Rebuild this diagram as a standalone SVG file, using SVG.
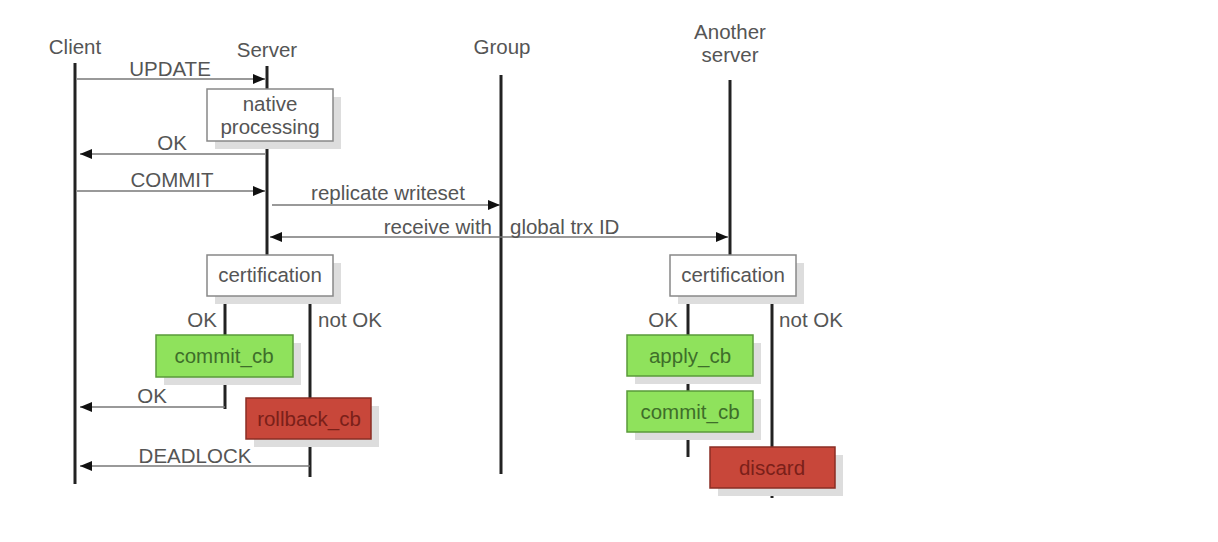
<svg xmlns="http://www.w3.org/2000/svg" width="1218" height="542" viewBox="0 0 1218 542">
<style>
text{font-family:"Liberation Sans",Arial,sans-serif;font-size:20.5px;fill:#555;}
.c{text-anchor:middle}
.life{stroke:#222;stroke-width:3;fill:none}
.br{stroke:#222;stroke-width:3;fill:none}
.msg{stroke:#777;stroke-width:1.5;fill:none}
.sh{fill:#ddd}
.wb{fill:#fff;stroke:#888;stroke-width:1.5}
.gb{fill:#8fe25c;stroke:#5a9a3a;stroke-width:1.5}
.rb{fill:#c8473a;stroke:#8a2e25;stroke-width:1.5}
.gt{fill:#3e6e2a}
.rt{fill:#7a2019}
</style>
<defs>
<marker id="ah" markerWidth="12" markerHeight="10" refX="12" refY="5" orient="auto-start-reverse" markerUnits="userSpaceOnUse">
<path d="M0,0 L12,5 L0,10 Z" fill="#111"/>
</marker>
</defs>
<rect width="1218" height="542" fill="#fff"/>
<g id="lifelines">
<line class="life" x1="75" y1="63" x2="75" y2="484"/>
<line class="life" x1="267" y1="66" x2="267" y2="255"/>
<line class="life" x1="501" y1="75" x2="501" y2="474"/>
<line class="life" x1="730" y1="80" x2="730" y2="255"/>
</g>
<g id="titles">
<text class="c" x="75" y="54">Client</text>
<text class="c" x="267" y="57">Server</text>
<text class="c" x="502" y="54">Group</text>
<text class="c" x="730" y="39">Another</text>
<text class="c" x="730" y="62">server</text>
</g>
<g id="connectors">
<line class="msg" x1="77" y1="79" x2="265" y2="79" marker-end="url(#ah)"/>
<text class="c" x="170" y="76">UPDATE</text>
<line class="msg" x1="80" y1="154" x2="265" y2="154" marker-start="url(#ah)"/>
<text class="c" x="172" y="150">OK</text>
<line class="msg" x1="77" y1="191" x2="265" y2="191" marker-end="url(#ah)"/>
<text class="c" x="172" y="187">COMMIT</text>
<line class="msg" x1="272" y1="205" x2="500" y2="205" marker-end="url(#ah)"/>
<text class="c" x="388" y="200">replicate writeset</text>
<line class="msg" x1="270" y1="237" x2="728" y2="237" marker-start="url(#ah)" marker-end="url(#ah)"/>
<text x="492" y="234" text-anchor="end">receive with</text>
<text x="510" y="234">global trx ID</text>
<line class="br" x1="225" y1="296" x2="225" y2="335"/>
<line class="br" x1="225" y1="377" x2="225" y2="409"/>
<line class="br" x1="310" y1="296" x2="310" y2="398"/>
<line class="br" x1="310" y1="439" x2="310" y2="477"/>
<text class="c" x="202" y="327">OK</text>
<text class="c" x="350" y="327">not OK</text>
<line class="msg" x1="80" y1="407" x2="225" y2="407" marker-start="url(#ah)"/>
<text class="c" x="152" y="403">OK</text>
<line class="msg" x1="80" y1="466" x2="310" y2="466" marker-start="url(#ah)"/>
<text class="c" x="195" y="463">DEADLOCK</text>
<line class="br" x1="688" y1="296" x2="688" y2="335"/>
<line class="br" x1="688" y1="376" x2="688" y2="391"/>
<line class="br" x1="688" y1="432" x2="688" y2="457"/>
<line class="br" x1="772" y1="296" x2="772" y2="447"/>
<line class="br" x1="772" y1="488" x2="772" y2="498"/>
<text class="c" x="663" y="327">OK</text>
<text class="c" x="811" y="327">not OK</text>
</g>
<g id="native">
<rect class="sh" x="215" y="97" width="126" height="52"/>
<rect class="wb" x="207" y="89" width="126" height="52"/>
<text class="c" x="270" y="111">native</text>
<text class="c" x="270" y="134">processing</text>
</g>
<g id="cert1">
<rect class="sh" x="215" y="263" width="126" height="41"/>
<rect class="wb" x="207" y="255" width="126" height="41"/>
<text class="c" x="270" y="282">certification</text>
</g>
<g id="commit1">
<rect class="sh" x="164" y="343" width="137" height="42"/>
<rect class="gb" x="156" y="335" width="137" height="42"/>
<text class="c gt" x="224" y="363">commit_cb</text>
</g>
<g id="rollback">
<rect class="sh" x="254" y="406" width="125" height="41"/>
<rect class="rb" x="246" y="398" width="125" height="41"/>
<text class="c rt" x="309" y="426">rollback_cb</text>
</g>
<g id="cert2">
<rect class="sh" x="678" y="263" width="126" height="41"/>
<rect class="wb" x="670" y="255" width="126" height="41"/>
<text class="c" x="733" y="282">certification</text>
</g>
<g id="apply">
<rect class="sh" x="635" y="343" width="126" height="41"/>
<rect class="gb" x="627" y="335" width="126" height="41"/>
<text class="c gt" x="690" y="363">apply_cb</text>
</g>
<g id="commit2">
<rect class="sh" x="635" y="399" width="126" height="41"/>
<rect class="gb" x="627" y="391" width="126" height="41"/>
<text class="c gt" x="690" y="419">commit_cb</text>
</g>
<g id="discard">
<rect class="sh" x="718" y="455" width="125" height="41"/>
<rect class="rb" x="710" y="447" width="125" height="41"/>
<text class="c rt" x="772" y="475">discard</text>
</g>
</svg>
